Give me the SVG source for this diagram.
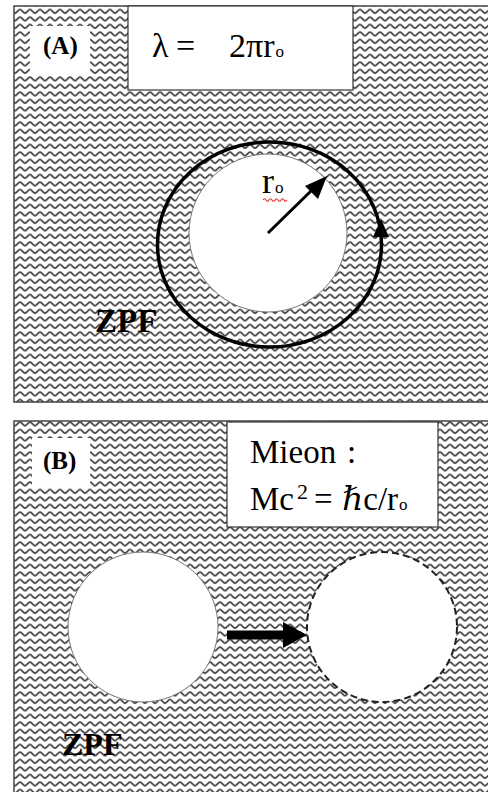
<svg xmlns="http://www.w3.org/2000/svg" width="488" height="792" viewBox="0 0 488 792">
<style>
.serif{font-family:"Liberation Serif","DejaVu Serif",serif;fill:#000}
.bold{font-weight:bold}
.panel{fill:url(#zpf);stroke:#444;stroke-width:1.5}
.box{fill:#fff;stroke:#333;stroke-width:1.2}
.hole{fill:#fff;stroke:#777;stroke-width:1}
</style>
<defs>
<pattern id="zpf" width="10" height="7.5" patternUnits="userSpaceOnUse">
<rect width="10" height="7.5" fill="#fff"/>
<path d="M0,2 C1.6,2 3.4,5.6 5,5.6 C6.6,5.6 8.4,2 10,2" fill="none" stroke="#404040" stroke-width="1.8"/>
</pattern>
</defs>
<rect width="488" height="792" fill="#fff"/>

<g id="panelA">
<rect class="panel" x="14" y="6" width="480" height="396"/>
<g id="labelA">
<rect x="30" y="26" width="60" height="48" fill="#fff"/>
<text class="serif bold" x="43" y="54" font-size="25">(A)</text>
</g>
<g id="formulaA">
<rect class="box" x="128" y="6" width="225" height="84"/>
<text class="serif" y="57" font-size="34"><tspan x="152">λ</tspan><tspan x="176">=</tspan><tspan x="229">2πr</tspan><tspan font-size="17" dx="1">o</tspan></text>
</g>
<g id="orbit">
<circle class="hole" cx="268" cy="233" r="79"/>
<ellipse cx="269.5" cy="244.5" rx="112" ry="102.5" fill="none" stroke="#000" stroke-width="3.5"/>
</g>
<g id="radiusLabel">
<text class="serif" y="193" font-size="36"><tspan x="262">r</tspan><tspan font-size="17" dx="1">o</tspan></text>
<path d="M263,200 q1.5,-2.5 3,0 t3,0 t3,0 t3,0 t3,0 t3,0 t3,0 t3,0" fill="none" stroke="#e03030" stroke-width="1.2"/>
</g>
<text id="zpfA" class="serif bold" x="95" y="332" font-size="33">ZPF</text>
</g>

<g id="panelB">
<rect class="panel" x="14" y="421" width="480" height="380"/>
<g id="labelB">
<rect x="32" y="438" width="58" height="50" fill="#fff"/>
<text class="serif bold" x="43" y="469" font-size="25">(B)</text>
</g>
<g id="formulaB">
<rect class="box" x="227" y="422" width="211" height="105"/>
<text class="serif" y="463" font-size="33"><tspan x="250">Mieon</tspan><tspan x="347">:</tspan></text>
<text class="serif" y="510" font-size="33"><tspan x="250">Mc</tspan><tspan x="297" font-size="22" dy="-11">2</tspan><tspan x="314" dy="11">=</tspan><tspan x="342">ℏc/r</tspan><tspan font-size="17" dx="1">o</tspan></text>
</g>
<g id="particle">
<circle class="hole" cx="143" cy="627" r="75"/>
</g>
<g id="particleMoved">
<circle cx="382" cy="627" r="75" fill="#fff" stroke="#222" stroke-width="2" stroke-dasharray="7 4"/>
</g>
<text id="zpfB" class="serif bold" x="62" y="755" font-size="32">ZPF</text>
</g>

<g id="connectors">
<line x1="268" y1="233" x2="312" y2="190" stroke="#000" stroke-width="3"/>
<polygon points="327,176 318,199 305,186" fill="#000"/>
<polygon points="381,219 373,237 389,237" fill="#000"/>
<rect x="227" y="630.5" width="58" height="9" fill="#000"/>
<polygon points="307,635 283,622 283,648" fill="#000"/>
</g>
</svg>
